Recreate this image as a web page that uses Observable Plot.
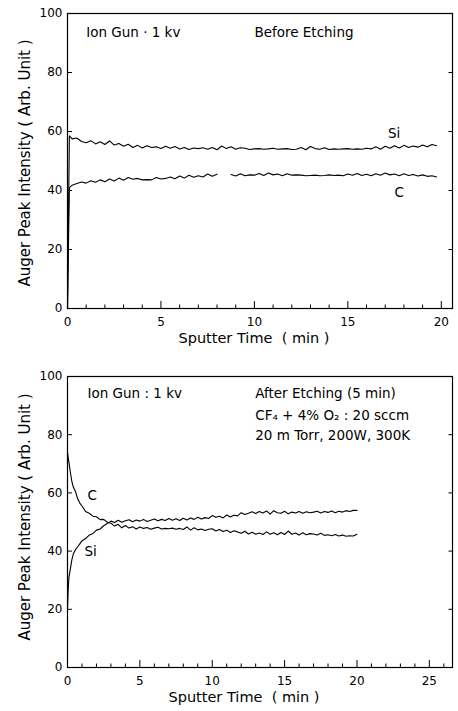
<!DOCTYPE html>
<html><head><meta charset="utf-8">
<script src="https://cdn.jsdelivr.net/npm/d3@7"></script>
<script src="https://cdn.jsdelivr.net/npm/@observablehq/plot@0.6"></script>
<style>body{margin:0;background:#fff} svg{display:block}</style>
</head><body><div id="chart"></div>
<script>
// ---------- Panel 1: Before Etching ----------
const topTimes = [0, 0.1, ...d3.range(0.25, 19.8, 0.25)];
const topSi = [0, 58.5,
 57.5,57.8,56.6,56.2,56.9,55.8,56.5,55.6,56.8,55.4,55.9,55.0,55.7,54.6,55.3,54.4,55.2,54.6,54.8,54.2,
 55.0,54.3,54.9,54.1,54.6,53.9,54.4,54.2,54.5,54.0,54.6,53.8,55.1,54.2,54.8,54.0,54.5,54.3,53.9,54.1,
 54.2,54.0,54.1,54.3,54.0,54.1,54.2,53.9,54.0,54.6,53.8,54.9,54.2,54.0,54.5,53.9,54.1,54.0,54.1,54.2,
 54.0,54.1,54.0,54.3,54.1,54.8,54.0,55.0,54.3,55.2,54.4,55.3,54.6,55.1,54.7,55.4,54.8,55.6,55.2];
const topC = [0, 41.0,
 41.8,42.4,42.9,42.5,43.3,42.8,43.6,43.0,43.9,43.2,44.2,43.5,44.4,43.8,44.1,43.6,43.7,43.6,44.4,43.9,
 44.1,44.6,44.0,44.9,44.2,45.2,44.5,45.0,44.6,45.6,44.8,45.5,null,null,45.4,44.9,45.7,45.0,45.3,45.2,
 45.8,45.1,45.9,45.3,45.6,45.0,45.7,45.2,45.3,45.2,45.0,45.1,45.2,45.0,45.1,45.3,45.1,45.2,45.0,45.6,
 45.2,45.8,45.1,45.5,45.0,45.7,45.2,45.9,45.3,45.6,45.0,45.7,45.1,45.4,44.9,45.3,44.8,45.0,44.6];

// ---------- Panel 2: After Etching ----------
const botTimes = [0,0.05,0.1,0.2,0.3,0.4,0.55,0.7,0.85,1.0,1.25,1.5,1.75,2.0,2.25,2.5,2.75,3.0, ...d3.range(3.25, 20.01, 0.25)];
const botC = [74,72,70.5,67,64,62,60.5,58,56.5,55.5,53.6,53.0,52.0,51.8,50.8,50.9,49.9,49.6,
 48.6,49.2,48.0,48.8,47.9,48.4,47.6,48.3,47.8,48.1,47.5,47.9,48.2,47.6,47.8,47.7,47.9,47.5,47.8,47.4,
 48.3,47.2,48.0,47.3,47.6,47.1,47.5,47.7,46.9,47.4,46.7,47.2,46.4,47.0,46.6,46.1,46.8,45.9,46.5,45.8,
 46.2,45.7,46.6,45.8,46.3,45.6,46.4,45.7,46.9,45.8,46.2,45.5,46.3,45.6,46.0,45.9,45.5,46.1,45.4,45.6,
 45.3,45.7,45.2,45.5,45.1,45.3,45.2,45.8];
const botSi = [20,27,31,34,37,39,40.5,41.5,42.5,43.5,44.3,45.5,46.0,47.2,47.6,48.7,49.5,50.3,
 49.8,50.6,49.9,50.4,50.8,50.1,50.7,50.3,50.9,50.2,50.6,51.0,50.4,50.9,50.5,51.2,50.6,51.1,50.5,51.3,
 50.7,51.4,50.9,51.6,51.0,51.5,51.2,52.2,51.6,52.0,51.4,52.4,51.7,52.3,52.1,53.2,52.6,53.0,53.5,52.9,
 53.6,53.1,53.8,52.7,53.9,53.2,53.0,53.7,52.8,53.4,53.1,53.6,53.0,53.5,53.2,53.4,53.7,53.1,53.6,53.3,
 53.8,53.2,53.7,53.4,53.9,53.6,54.0,54.0];

const yTicks = [0, 20, 40, 60, 80, 100];
const yLabel = "Auger Peak Intensity ( Arb. Unit )";
const xLabel = "Sputter Time  ( min )";

const topTexts = [
  {t: 1.0, v: 93.5, s: "Ion Gun · 1 kv"},
  {t: 10.0, v: 93.5, s: "Before Etching"},
  {t: 17.15, v: 59.3, s: "Si"},
  {t: 17.5, v: 39.3, s: "C"}
];
const botTexts = [
  {t: 1.38, v: 94.1, s: "Ion Gun : 1 kv"},
  {t: 12.97, v: 94.1, s: "After Etching (5 min)"},
  {t: 12.97, v: 86.5, s: "CF₄ + 4% O₂ : 20 sccm"},
  {t: 12.97, v: 79.7, s: "20 m Torr, 200W, 300K"},
  {t: 1.38, v: 59.2, s: "C"},
  {t: 1.17, v: 39.7, s: "Si"}
];

function zip(times, values, name) {
  return times.map((t, i) => ({t, v: values[i], series: name}));
}

function panel({data, xmax, xticks, height, mt, mb, texts, xlabelDx, ylabelDy}) {
  const W = 458, ml = 67, mr = 6;
  const yPer = (height - mt - mb) / 100;
  const xPer = (W - ml - mr) / xmax;
  const majorLen = 7 / yPer, minorLen = 3.5 / yPer, yTickLen = 5 / xPer;
  const allX = d3.range(1, Math.floor(xmax) + 1);
  const minorX = allX.filter(d => d % 5 !== 0);
  const majorX = allX.filter(d => d % 5 === 0);
  const innerY = yTicks.filter(d => d > 0 && d < 100);
  return Plot.plot({
    width: W, height, marginLeft: ml, marginRight: mr, marginTop: mt, marginBottom: mb,
    style: {fontFamily: "DejaVu Sans, sans-serif", fontSize: "12px", color: "black", background: "white"},
    x: {domain: [0, xmax]},
    y: {domain: [0, 100]},
    marks: [
      Plot.axisX({ticks: xticks, tickSize: 0, tickPadding: 9, label: null, fontSize: 12}),
      Plot.axisY({ticks: yTicks, tickSize: 0, tickPadding: 5, label: null, fontSize: 12}),
      Plot.ruleX(minorX, {x: d => d, y1: 0, y2: minorLen, stroke: "black", strokeWidth: 1}),
      Plot.ruleX(majorX, {x: d => d, y1: 0, y2: majorLen, stroke: "black", strokeWidth: 1}),
      Plot.ruleY(innerY, {y: d => d, x1: 0, x2: yTickLen, stroke: "black", strokeWidth: 1}),
      Plot.ruleY(innerY, {y: d => d, x1: xmax, x2: xmax - yTickLen * 0.7, stroke: "black", strokeWidth: 1}),
      Plot.line(data, {x: "t", y: "v", z: "series", stroke: "black", strokeWidth: 1.1}),
      Plot.text(texts, {x: "t", y: "v", text: "s", textAnchor: "start", lineAnchor: "middle", fontSize: 13.5, fill: "black"}),
      Plot.text([xLabel], {frameAnchor: "bottom", dy: 30, dx: xlabelDx, textAnchor: "middle", lineAnchor: "middle", fontSize: 14.5, fill: "black"}),
      Plot.text([yLabel], {frameAnchor: "left", dx: -42, dy: ylabelDy, rotate: -90, textAnchor: "middle", lineAnchor: "middle", fontSize: 15, fill: "black"}),
      Plot.frame({stroke: "black", strokeWidth: 1.2})
    ]
  });
}

const topPanel = panel({
  data: [...zip(topTimes, topSi, "Si"), ...zip(topTimes, topC, "C")],
  xmax: 20.6, xticks: [0, 5, 10, 15, 20], height: 355, mt: 13, mb: 47,
  texts: topTexts, xlabelDx: -6, ylabelDy: 2
});
const botPanel = panel({
  data: [...zip(botTimes, botSi, "Si"), ...zip(botTimes, botC, "C")],
  xmax: 26.6, xticks: [0, 5, 10, 15, 20, 25], height: 356, mt: 21, mb: 44,
  texts: botTexts, xlabelDx: -16, ylabelDy: -5
});
document.getElementById("chart").append(topPanel, botPanel);
</script>
</body></html>
